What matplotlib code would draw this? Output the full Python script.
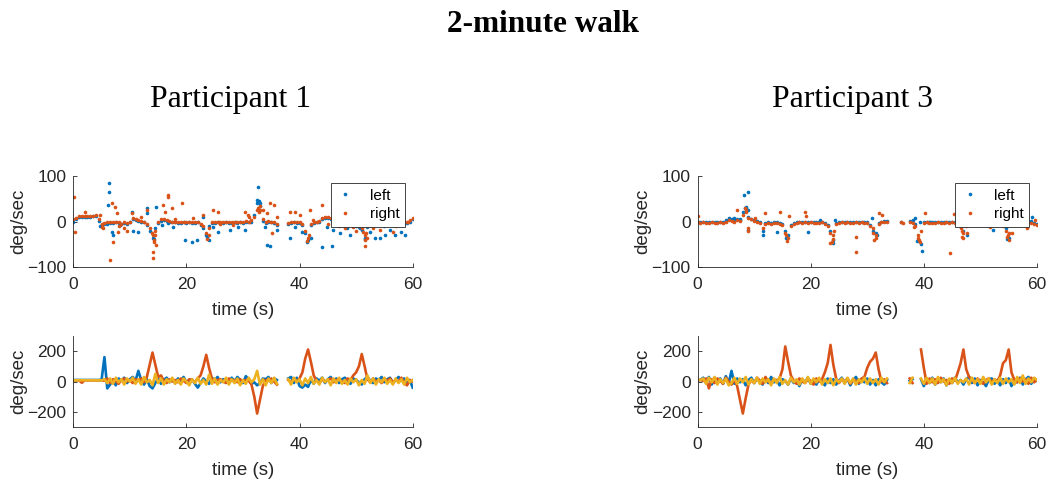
import numpy as np
import matplotlib.pyplot as plt

nan = np.nan

# time grid of the traces (s), 0.5 s steps
t = np.arange(0, 60.5, 0.5)

# ---- Participant 1, top: left / right (deg/sec), rows of 5 s ----
p1_left = [0, 5, 10, 10, 10, 11, 11, 12, 12, 2,
           -8, -5, -5, -3, -4, -2, -3, -6, -4, -5,
           -2, 5, 3, 1, 0, -2, -8, -20, -35, -15,
           -3, 2, 3, 1, 0, -2, -2, -3, -3, -2,
           -3, -2, -3, -3, -2, -8, -15, -30, -10, -4,
           -3, -2, -3, -3, -2, -3, -4, -2, -3, -2,
           -4, 0, -2, 0, 15, 40, 35, 2, -3, 0,
           -2, -4, -8, nan, nan, nan, -5, -4, -2, -4,
           -3, -8, -25, -40, -8, -4, -2, 0, 5, 8,
           8, 5, 0, -3, -5, -8, -6, -8, -5, -8,
           -10, -12, -18, -35, -12, -8, -10, -8, -6, -8,
           -10, -8, -6, -8, -5, -8, -6, -5, -3, 0,
           5]
p1_right = [5, 8, 12, 12, 12, 12, 12, 13, 15, 5,
            -5, -3, -2, 0, -2, 0, 0, -5, -2, -3,
            0, 8, 5, 3, 2, 0, -5, -15, -30, -20,
            0, 5, 5, 3, 2, 0, 0, 0, -1, 0,
            -1, 0, -1, 0, 0, -5, -10, -25, -15, -2,
            0, 0, 0, -1, 0, 0, -2, 0, 0, 0,
            -2, 2, 0, 3, 10, 25, 25, 5, 0, 2,
            0, -2, -5, nan, nan, nan, -3, -2, 0, -2,
            0, -5, -20, -35, -5, -2, 0, 2, 8, 10,
            10, 8, 2, 0, -2, -5, -3, -5, -2, -5,
            -8, -10, -15, -30, -10, -5, -8, -5, -3, -5,
            -8, -5, -3, -5, -2, -5, -3, -2, -1, 3,
            8]
p1_left_extra = [(6.3, 85), (6.3, 65), (6.2, 36), (4.7, -9), (6.8, -22), (7.1, -29),
                 (8.3, -8), (10.3, 21), (10.5, -21), (11.5, -22), (13, 29), (13, 18),
                 (14.7, 32), (15.6, -8), (16.8, -4), (17.7, -11), (19.7, -40), (20.9, -44),
                 (21.8, -40), (23, 11), (23.9, -40), (24.7, -11), (25.6, -22), (27.7, -19),
                 (29.2, -11), (30.3, -19), (32.7, 75), (32.4, 47), (33, 40), (33.9, -11),
                 (34.2, -51), (34.8, -53), (36, -19), (38.3, -37), (39.2, -11), (40.4, -22),
                 (42.1, -37), (43.9, -55), (44.8, -11), (45.7, -53), (46, -19), (47.1, -26),
                 (48.3, -15), (48.9, -29), (50.7, -15), (52.4, -22), (53.3, -37), (54.2, -37),
                 (55.1, -29), (56, -19), (56.9, -29), (58, -22), (58.6, -29), (14.2, -38),
                 (23.7, -33), (41.4, -44), (51.6, -38), (32.8, 45)]
p1_right_extra = [(0.1, 53), (0.3, -22), (4.7, 14), (6.5, -83), (6.8, 40), (7.4, 32),
                  (7.7, 18), (7.1, -44), (7.9, -22), (10.3, 18), (13, 25), (14.1, -66),
                  (14.1, -80), (14.7, -51), (15.9, 36), (16.2, 21), (16.8, 54), (16.8, 59),
                  (17.4, 29), (19.3, 40), (21.2, 7), (23, 14), (24.7, 25), (25.6, 21),
                  (28.3, -8), (30.3, 21), (30.9, 14), (33.6, 25), (34.2, 18), (34.8, 40),
                  (35.4, 36), (35.1, -26), (38.3, 21), (39.2, 21), (40.1, 14), (41.8, 25),
                  (42.4, 3), (43.9, 36), (46.6, 11), (49.5, -11), (51.3, -22), (51.6, -53),
                  (51.9, -37), (54.2, -19), (56.6, -22), (58.3, 3), (59.2, 0),
                  (14.2, -40), (13.9, -25), (14.5, -30), (14.3, -45), (23.7, -38), (23.9, -30),
                  (41.4, -42), (41.6, -30), (51.5, -40), (51.7, -25), (32.6, 30), (33, 33),
                  (32.8, 20), (5, -12), (5.3, -15), (2, 20), (8, -10), (9, -15), (9.5, -20),
                  (12, 10), (18, 5), (26, -5), (31, 10), (36, 10), (45, -5), (47, -10),
                  (48, -15), (50, -20), (53, -15), (57, -10)]

# ---- Participant 1, bottom: three gyro axes (deg/sec) ----
p1_blue = [10, 10, 10, 10, 10, 10, 10, 10, 10, 10,
           12, 160, -45, -20, 10, -25, 20, 5, 25, -10,
           15, 30, 5, 70, 10, -20, 15, -30, -45, -10,
           20, -15, 10, 25, -5, 15, -10, 20, 5, 30,
           -5, 10, 15, -15, -40, -10, 20, 0, -15, 25,
           10, 30, -5, 15, 5, -10, 25, 0, 30, 10,
           -10, 35, 15, -15, -5, -25, -10, 20, 15, 30,
           -10, 20, 10, nan, nan, nan, 20, 30, -10, 25,
           -30, -40, -20, -35, 10, -15, 20, 5, 25, -10,
           15, 30, 0, 20, -10, 15, 25, 5, -15, 20,
           10, -5, -20, 15, 30, 5, -10, 20, 10, 30,
           -5, 15, 25, -10, 10, 30, 5, 20, -15, 10,
           -40]
p1_orange = [8, 8, 8, -8, 8, 8, 8, 8, 8, 8,
             8, 5, 20, -10, 15, 5, -15, 10, 20, 0,
             10, -10, 15, 5, 20, -5, 30, 110, 190, 110,
             30, 40, 5, -10, 15, 0, 10, -5, 20, 5,
             -10, 15, 10, -5, 20, 40, 100, 175, 90, 20,
             -5, 10, 15, 0, -10, 20, 5, 10, -5, 15,
             0, 10, 5, -20, -100, -210, -120, -30, 10, 5,
             20, 0, -20, nan, nan, nan, 10, -5, 15, 0,
             20, 60, 150, 210, 130, 40, 5, -10, 15, 0,
             10, 20, -5, 10, 15, 0, -10, 20, 10, 40,
             60, 100, 180, 100, 15, -5, 20, 0, 10, -10,
             15, 5, 20, -5, 10, 0, 25, -10, -25, 10,
             0]
p1_yellow = [8, 8, 8, 8, 8, 8, 8, 8, 8, 8,
             8, 15, -10, 20, -15, 25, -5, 15, -20, 20,
             0, 25, -15, 15, -20, 30, -5, 10, -25, 50,
             -10, 20, -20, 15, -5, 25, -15, 10, -20, 20,
             0, -25, 15, -10, 25, -15, 10, -20, 45, -15,
             20, -20, 10, -5, 25, -20, 15, -10, 20, -25,
             10, -15, 25, -5, 15, 70, -20, 15, -25, 20,
             -10, 25, -15, nan, nan, nan, 15, -20, 25, -5,
             15, -25, 20, -10, 30, -15, 10, -20, 25, -5,
             15, -25, 20, -10, 25, -15, 10, -20, 20, -5,
             15, -25, 10, -15, 40, -10, 20, -20, 15, -5,
             25, -15, 10, -20, 20, -10, 15, -20, 25, -5,
             10]

# ---- Participant 3, top ----
p3_left = [0, -1, 0, -2, -1, 0, -2, -1, 0, -1,
           3, 6, 5, 3, 5, 4, 20, 30, 10, 6,
           4, 2, -1, -20, -3, -1, -3, -1, -2, -3,
           -6, -20, -30, -8, -3, -1, 0, -1, 0, -1,
           0, -1, -2, -1, 0, -3, -8, -20, -40, -3,
           -1, 0, -1, 0, -2, -1, 0, -1, 0, -2,
           -1, -8, -20, -25, -3, 0, 2, 2, nan, nan,
           nan, nan, 0, nan, nan, 2, 3, -5, -40, -50,
           -1, 0, -1, -2, -1, 0, -2, -1, 0, -1,
           0, -1, -3, -12, -20, -8, -1, 0, -1, 0,
           -2, -1, 0, -1, 0, -1, -2, -3, -8, -15,
           -35, -5, -1, 0, -1, 0, -1, 0, 2, -3,
           -5]
p3_right = [-2, -3, -2, -4, -3, -2, -4, -3, -2, -3,
            0, 3, 2, 0, 3, 2, 15, 25, 8, 5,
            2, 0, -3, -15, -5, -3, -5, -3, -4, -5,
            -8, -25, -35, -10, -5, -3, -2, -3, -2, -3,
            -2, -3, -4, -3, -2, -5, -10, -25, -30, -5,
            -3, -2, -3, -2, -4, -3, -2, -3, -2, -4,
            -3, -10, -25, -30, -5, -2, 0, 0, nan, nan,
            nan, nan, -2, nan, nan, -2, -3, -10, -35, -20,
            -3, -2, -3, -4, -3, -2, -4, -3, -2, -3,
            -2, -3, -5, -15, -25, -10, -3, -2, -3, -2,
            -4, -3, -2, -3, -2, -3, -4, -5, -10, -20,
            -25, -8, -3, -2, -3, -2, -3, -2, -3, -5,
            -8]
p3_left_extra = [(8.2, 59), (9.0, 64), (8.4, 29), (9.0, 25), (9.0, -19), (11.6, -29),
                 (14, -22), (15.6, -37), (19.6, -22), (21.7, 3), (24.0, -46), (24.3, 3),
                 (30.8, 7), (31.7, -29), (38.5, 7), (38.8, -43), (39.6, -64), (39.4, 0),
                 (41.1, 0), (47.6, -29), (52.3, -19), (54.7, -39), (59.1, 11), (5.5, 8),
                 (6.5, 7), (7.5, 6), (8.6, 32)]
p3_right_extra = [(0, 12), (6.9, 25), (8.9, -20), (9, -15), (10.1, 7), (11.9, 18),
                  (14.6, 21), (16.2, 12), (19, 21), (19.1, 13), (23.4, -48), (24, -39),
                  (28, -33), (28, -66), (32, 18), (32.6, 14), (36.4, -4), (38.2, -11),
                  (39.1, -40), (40.2, 18), (45.3, 16), (44.7, -68), (46.7, -33), (47.6, -26),
                  (51.7, -11), (52.3, -8), (54.7, -33), (55.6, -26), (58.2, -15), (59.7, 3),
                  (15.8, -42), (15.6, -30), (23.8, -45), (24.1, -20), (31.2, -40), (31.5, -35),
                  (31, -15), (39, -30), (39.3, -45), (47, -35), (46.8, -20), (55, -40),
                  (54.8, -30), (8.3, 30), (8.6, 20)]

# ---- Participant 3, bottom ----
p3_blue = [10, 10, 25, -10, 30, -20, 15, -5, 20, -15,
           35, -10, 70, -15, 20, -5, 15, -25, 10, 25,
           -10, 20, 5, -20, 15, -10, 30, -5, 10, -25,
           15, 5, -20, 20, -10, 10, -30, 15, -5, 25,
           -15, 10, -20, 15, 0, -25, 20, -10, 15, -20,
           5, 25, -10, 20, -25, 10, 30, -15, 15, -5,
           20, -20, 10, -25, 15, -5, -20, 10, nan, nan,
           nan, nan, nan, nan, nan, 5, 15, nan, nan, 15,
           -30, 20, -10, 25, -20, 10, -5, 20, -25, 15,
           -10, 25, -5, 10, -20, 15, 30, -10, 20, -25,
           10, -5, -30, 15, 20, -15, 10, -25, 15, -10,
           20, -30, 10, -5, 25, -20, 15, 30, -15, 20,
           5]
p3_orange = [10, 10, 5, 20, -45, 15, -10, 20, 5, -15,
             25, 0, -20, 15, -30, -120, -210, -110, -20, 10,
             -10, 25, 5, -15, 30, 0, -10, 15, 5, 20,
             80, 230, 130, 40, 5, -15, 20, 0, -10, 15,
             5, -20, 20, 0, 15, 60, 120, 240, 110, 20,
             -10, 15, 0, 20, -15, 10, 5, -10, 20, 30,
             90, 130, 150, 190, 80, 0, 15, -10, nan, nan,
             nan, nan, nan, nan, nan, 20, -10, nan, nan, 210,
             90, -15, 20, -5, 15, -10, 25, 0, 10, -15,
             20, 5, 60, 120, 210, 80, 30, 15, -10, 20,
             0, -15, 10, 20, -5, 15, 0, 40, 120, 140,
             210, 60, 10, -5, 20, 0, 15, -15, 25, -5,
             10]
p3_yellow = [10, 10, 20, -15, 25, -5, 30, -20, 15, -10,
             20, -25, -10, 25, -15, 20, -5, 30, -20, 15,
             -10, 25, -15, 20, -5, 15, -25, 20, -10, 30,
             -15, 10, -20, 25, -5, 15, -20, 20, -10, 30,
             -15, 20, -5, 25, -20, 15, -10, 20, -25, 15,
             -5, 20, -15, 25, -10, 20, -20, 15, -5, 25,
             -15, 20, -10, 15, -20, 25, -5, 20, nan, nan,
             nan, nan, nan, nan, nan, -10, 25, nan, nan, 20,
             -15, 25, -10, 20, -20, 30, -5, 15, -25, 20,
             -10, 25, -15, 10, -5, 20, -20, 25, -10, 15,
             -15, 30, -5, 20, -20, 15, -10, 25, -15, 20,
             -5, 15, -20, 30, -10, 40, -15, 20, -5, 25,
             10]

# matlab default colours
c_blue = '#0072BD'
c_orange = '#D95319'
c_yellow = '#EDB120'
axcol = '#262626'

plt.rcParams['font.family'] = ['Liberation Sans', 'DejaVu Sans']

fig = plt.figure(figsize=(10.49, 4.79), dpi=100)


def style(ax, ylim, yticks):
    ax.set_xlim(0, 60)
    ax.set_ylim(*ylim)
    ax.set_xticks([0, 20, 40, 60])
    ax.set_yticks(yticks)
    for s in ['top', 'right']:
        ax.spines[s].set_visible(False)
    for s in ['left', 'bottom']:
        ax.spines[s].set_color(axcol)
        ax.spines[s].set_linewidth(0.6)
    ax.tick_params(direction='in', length=3, width=0.6, colors=axcol,
                   labelsize=12.5)
    ax.tick_params(axis='x', pad=7)
    ax.tick_params(axis='y', pad=5)
    ax.set_ylabel('deg/sec', fontsize=13.5, color=axcol, labelpad=0)
    ax.set_xlabel('time (s)', fontsize=13.5, color=axcol, labelpad=7)


def top_panel(ax, left, right, left_extra, right_extra):
    lx, ly = zip(*left_extra)
    rx, ry = zip(*right_extra)
    ax.plot(np.concatenate([t, lx]), np.concatenate([left, ly]), 'o',
            color=c_blue, ms=2.6, mew=0, label='left')
    ax.plot(np.concatenate([t, rx]), np.concatenate([right, ry]), 'o',
            color=c_orange, ms=2.6, mew=0, label='right')
    style(ax, (-100, 100), [-100, 0, 100])
    leg = ax.legend(loc='upper right', fontsize=11, fancybox=False,
                    edgecolor='#262626', framealpha=1, handlelength=1.2,
                    handletextpad=1.0, borderpad=0.35, labelspacing=0.3,
                    markerscale=1.0)
    leg.get_frame().set_linewidth(0.6)


def bottom_panel(ax, b, o, y):
    ax.plot(t, b, color=c_blue, lw=1.9)
    ax.plot(t, o, color=c_orange, lw=1.9)
    ax.plot(t, y, color=c_yellow, lw=1.9)
    style(ax, (-300, 300), [-200, 0, 200])


ax1 = fig.add_axes([0.0699, 0.442, 0.3235, 0.191])
ax2 = fig.add_axes([0.0699, 0.108, 0.3235, 0.191])
ax3 = fig.add_axes([0.665, 0.442, 0.3235, 0.191])
ax4 = fig.add_axes([0.665, 0.108, 0.3235, 0.191])

top_panel(ax1, p1_left, p1_right, p1_left_extra, p1_right_extra)
bottom_panel(ax2, p1_blue, p1_orange, p1_yellow)
top_panel(ax3, p3_left, p3_right, p3_left_extra, p3_right_extra)
bottom_panel(ax4, p3_blue, p3_orange, p3_yellow)

fig.text(543 / 1049, 1 - 25 / 479, '2-minute walk', ha='center', va='center',
         fontsize=22.5, fontweight='bold', family='Liberation Serif')
fig.text(230 / 1049, 1 - 100 / 479, 'Participant 1', ha='center', va='center',
         fontsize=22.8, family='Liberation Serif')
fig.text(853 / 1049, 1 - 100 / 479, 'Participant 3', ha='center', va='center',
         fontsize=22.8, family='Liberation Serif')

fig.savefig('out.png', dpi=100)
